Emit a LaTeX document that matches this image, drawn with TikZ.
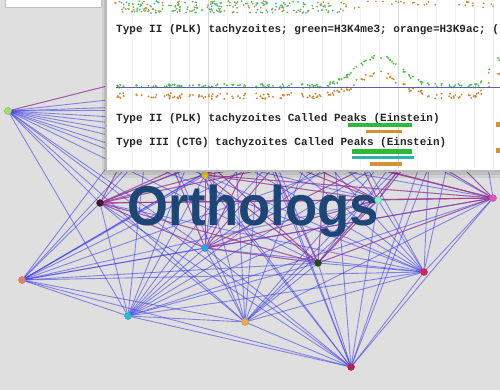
\documentclass[tikz,border=0pt]{standalone}
\usepackage{fontspec}
\setmainfont{Liberation Sans}
\newfontfamily\trackfont{Liberation Mono}
\pgfdeclarelayer{bg}
\pgfdeclarelayer{edges}
\pgfsetlayers{bg,edges,main}

\definecolor{pagegray}{RGB}{223,223,223}
\definecolor{titleblue}{RGB}{28,70,118}
\definecolor{edgeblue}{RGB}{55,55,235}
\definecolor{edgered}{RGB}{205,45,95}
\definecolor{trackgreen}{RGB}{85,195,70}
\definecolor{trackorange}{RGB}{210,140,60}
\definecolor{trackteal}{RGB}{60,185,170}
\definecolor{peakgreen}{RGB}{45,185,60}
\definecolor{peakteal}{RGB}{40,180,175}
\definecolor{peakorange}{RGB}{215,145,50}
\definecolor{baseblue}{RGB}{85,95,190}
\definecolor{gLime}{RGB}{160,225,100}
\definecolor{gMaroon}{RGB}{70,25,40}
\definecolor{gSalmon}{RGB}{225,130,110}
\definecolor{gCyan}{RGB}{30,195,210}
\definecolor{gSky}{RGB}{45,160,230}
\definecolor{gAmber}{RGB}{240,175,70}
\definecolor{gForest}{RGB}{30,80,30}
\definecolor{gMint}{RGB}{130,240,200}
\definecolor{gCrimson}{RGB}{225,30,90}
\definecolor{gPink}{RGB}{225,85,195}
\definecolor{gRuby}{RGB}{190,30,80}
\definecolor{gYellow}{RGB}{230,210,40}

\tikzset{
  gene/.style={circle, inner sep=0pt, minimum size=7pt, fill=#1, draw=#1!75!black, line width=0.3pt},
  blueedge/.style={edgeblue, opacity=0.55, line width=0.9pt},
  rededge/.style={edgered, opacity=0.5, line width=0.9pt},
  tracktext/.style={anchor=west, inner sep=0pt, text=black!85,
    font=\trackfont\bfseries\fontsize{11}{13}\selectfont},
}

\begin{document}
\begin{tikzpicture}[x=1pt, y=-1pt]
    \useasboundingbox (0,0) rectangle (500,390);
    \clip (0,0) rectangle (500,390);
    \begin{pgfonlayer}{bg}
      \fill[pagegray] (0,0) rectangle (500,390);
    \end{pgfonlayer}

    % Genes of the network
    \node[gene=gLime]    (n1)  at (8,111)  {};
    \node[gene=gMaroon]  (n2)  at (100,203) {};
    \node[gene=gSalmon]  (n3)  at (22,280) {};
    \node[gene=gCyan]    (n4)  at (128,316) {};
    \node[gene=gSky]     (n5)  at (205,248) {};
    \node[gene=gAmber]   (n6)  at (245,322) {};
    \node[gene=gForest]  (n7)  at (318,263) {};
    \node[gene=gMint]    (n8)  at (378,200) {};
    \node[gene=gCrimson] (n9)  at (424,272) {};
    \node[gene=gPink]    (n10) at (493,198) {};
    \node[gene=gRuby]    (n11) at (351,367) {};
    \node[gene=gYellow]  (n12) at (205,175) {};
    % genes hidden under the browser shot
    \coordinate (n13) at (150,110);
    \coordinate (n14) at (260,140);
    \coordinate (n15) at (330,100);
    \coordinate (n16) at (430,135);
    \coordinate (n17) at (230,55);
    \coordinate (n18) at (470,60);

    % Ortholog links
    \begin{pgfonlayer}{edges}
      \foreach \i in {1,...,17} {
        \pgfmathtruncatemacro\first{\i+1}
        \foreach \j in {\first,...,18} {
          \pgfmathtruncatemacro\skip{\i==1 && \j==3}
          \ifnum\skip=0 \draw[blueedge] (n\i) -- (n\j); \fi
        }
      }
      \foreach \i in {2,5,7,8,10,12,13,14,15,16} {
        \foreach \j in {2,5,7,8,10,12,13,14,15,16} {
          \ifnum\j>\i \draw[rededge] (n\i) -- (n\j); \fi
        }
      }
      \draw[rededge] (n1) -- (n17);
    \end{pgfonlayer}

    % Genome browser shot
    \filldraw[fill=white, draw=gray!50] (5,-2) rectangle (101,7);
    \fill[black, opacity=0.07] (102,-5) rectangle (505,178);
    \fill[black, opacity=0.08] (104,-5) rectangle (505,175);
    \filldraw[fill=white, draw=gray!55, line width=2.5pt] (106,-5) rectangle (505,171);
    \foreach \k in {-4,...,15}
      \draw[gray!10, line width=0.6pt] ({208+19*\k},0) -- ({208+19*\k},168);
    \draw[gray!30, line width=0.8pt] (208,0) -- (208,168);
    \draw[gray!30, line width=0.8pt] (398,0) -- (398,168);

    % top coverage track
    \pgfmathsetseed{7}
    \foreach \k in {1,...,240} {
      \pgfmathsetmacro\dx{115+232*rnd}
      \pgfmathsetmacro\dy{1+12*rnd}
      \pgfmathtruncatemacro\pick{mod(\k,3)}
      \ifcase\pick \fill[trackgreen] (\dx,\dy) circle (1pt);
      \or \fill[trackorange] (\dx,\dy) circle (1pt);
      \else \fill[trackteal] (\dx,\dy) circle (1pt);
      \fi
    }
    \foreach \k in {1,...,30} {
      \pgfmathsetmacro\dx{345+155*rnd}
      \pgfmathsetmacro\dy{1+8*rnd}
      \fill[trackorange] (\dx,\dy) circle (1pt);
    }
    \node[tracktext] (lbl1) at (116,30) {Type II (PLK) tachyzoites; green=H3K4me3; orange=H3K9ac; (};

    % second coverage track
    \foreach \k in {1,...,170} {
      \pgfmathsetmacro\dx{116+384*rnd}
      \pgfmathsetmacro\hh{30*exp(-min(((\dx-378)/30)^2,9)) + max(0,\dx-478)*1.3}
      \pgfmathsetmacro\gy{86-\hh+4*rnd-2}
      \pgfmathsetmacro\oy{95-0.75*\hh+6*rnd-2}
      \fill[trackgreen] (\dx,\gy) circle (1.1pt);
      \fill[trackorange] (\dx,\oy) circle (1.1pt);
    }
    \draw[baseblue, line width=1pt] (116,88) -- (500,88);

    % called peaks
    \node[tracktext] (lbl2) at (116,119) {Type II (PLK) tachyzoites Called Peaks (Einstein)};
    \fill[peakgreen]  (348,123) rectangle (412,127);
    \fill[peakorange] (366,130) rectangle (402,133);
    \node[tracktext] (lbl3) at (116,143) {Type III (CTG) tachyzoites Called Peaks (Einstein)};
    \fill[peakgreen]  (352,149) rectangle (412,154);
    \fill[peakteal]   (352,156) rectangle (414,159);
    \fill[peakorange] (370,162) rectangle (402,166);
    \fill[peakorange] (496,122) rectangle (500,127);
    \fill[peakorange] (496,148) rectangle (500,153);

    % Title
    \node[anchor=base west, inner sep=0pt, text=titleblue, xscale=0.94,
      font=\bfseries\fontsize{56}{60}\selectfont] (title) at (127,225) {Orthologs};
\end{tikzpicture}
\end{document}
